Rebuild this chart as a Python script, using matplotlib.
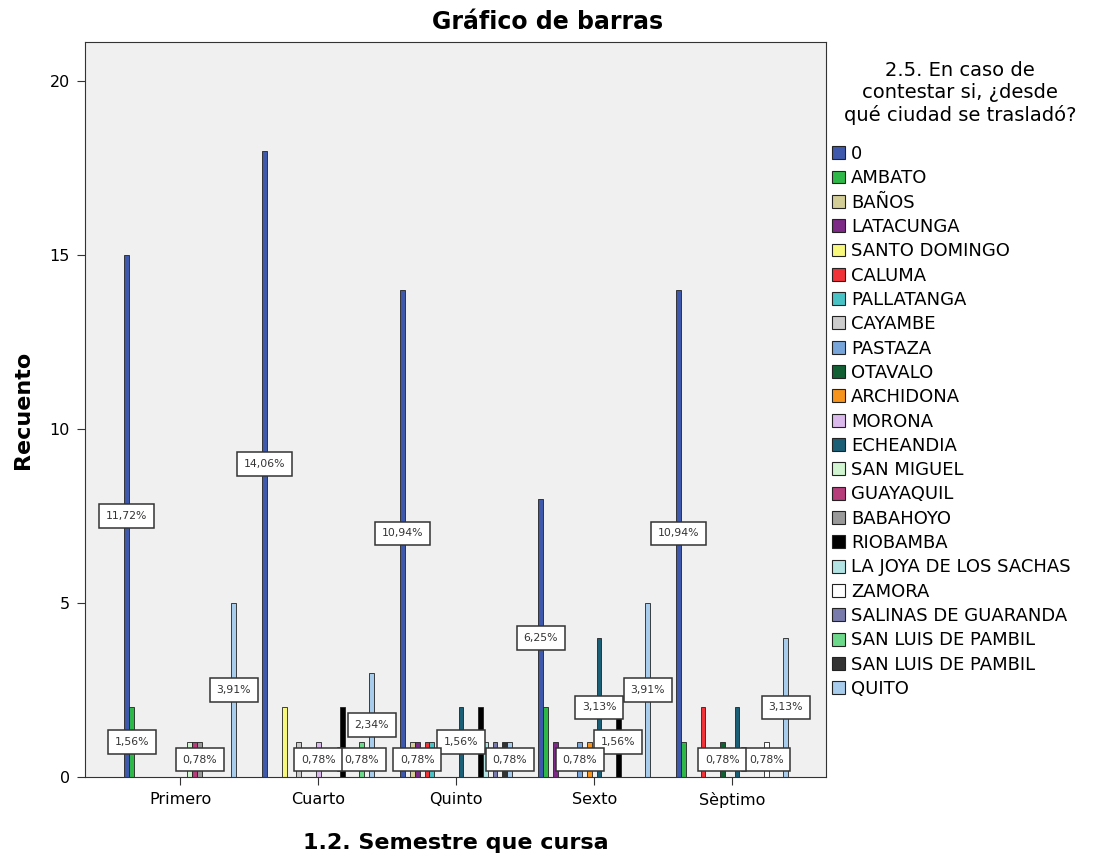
import numpy as np
import matplotlib
matplotlib.use('Agg')
from matplotlib import pyplot as plt
from matplotlib.patches import Patch

plt.rcParams['font.family'] = ['DejaVu Sans']

categories = ['Primero', 'Cuarto', 'Quinto', 'Sexto', 'Sèptimo']

cities = ['0', 'AMBATO', 'BAÑOS', 'LATACUNGA', 'SANTO DOMINGO', 'CALUMA',
          'PALLATANGA', 'CAYAMBE', 'PASTAZA', 'OTAVALO', 'ARCHIDONA', 'MORONA',
          'ECHEANDIA', 'SAN MIGUEL', 'GUAYAQUIL', 'BABAHOYO', 'RIOBAMBA',
          'LA JOYA DE LOS SACHAS', 'ZAMORA', 'SALINAS DE GUARANDA',
          'SAN LUIS DE PAMBIL', 'SAN LUIS DE PAMBIL', 'QUITO']

# counts per city, in category order
counts = [
  [15, 18, 14, 8, 14],
  [2, 0, 0, 2, 1],
  [0, 0, 1, 0, 0],
  [0, 0, 1, 1, 0],
  [0, 2, 0, 0, 0],
  [0, 0, 1, 0, 2],
  [0, 0, 1, 0, 0],
  [0, 1, 0, 0, 0],
  [0, 0, 0, 1, 0],
  [0, 0, 0, 0, 1],
  [0, 0, 0, 1, 0],
  [0, 1, 0, 0, 0],
  [0, 0, 2, 4, 2],
  [1, 0, 0, 0, 0],
  [1, 0, 0, 0, 0],
  [1, 0, 0, 0, 0],
  [0, 2, 2, 2, 0],
  [0, 0, 1, 0, 0],
  [0, 0, 0, 0, 1],
  [0, 0, 1, 0, 0],
  [0, 1, 0, 0, 0],
  [0, 0, 1, 0, 0],
  [5, 3, 1, 5, 4],
]

colors = ['#3E58AC', '#2EB848', '#D3CE97', '#7C2A85', '#F8F87C', '#EF3338',
          '#48C2C5', '#CCCCCC', '#78A5D9', '#115F33', '#F7941D', '#DCB9EC',
          '#1A5F76', '#D0F5D0', '#B73C7A', '#999999', '#000000', '#B4E3E3',
          '#FFFFFF', '#787BAB', '#6CD98A', '#333333', '#A8CCEC']

total = sum(sum(r) for r in counts)
n = len(cities)
w = 0.0352
x = np.arange(len(categories))

fig = plt.figure(figsize=(10.95, 8.58), dpi=100)
ax = fig.add_axes([0.0776, 0.0944, 0.6767, 0.8566])
ax.set_facecolor('#F0F0F0')

for i in range(n):
  pos = x + (i - (n - 1) / 2) * w
  h = np.array(counts[i])
  m = h > 0
  ax.bar(pos[m], h[m], width=w, color=colors[i], edgecolor='#222222',
         linewidth=0.6, zorder=2)

# percent labels at bar middles; hide the ones that overlap too much
lab_w = 9.1   # in slots
lab_h = 0.75  # in counts
placed = []
for j in range(len(categories)):
  for i in reversed(range(n)):
    v = counts[i][j]
    if v == 0:
      continue
    s = j * 50 + i  # slot coordinate
    yc = v / 2
    ok = True
    for (s2, y2) in placed:
      ox = max(0, lab_w - abs(s - s2)) / lab_w
      oy = max(0, lab_h - abs(yc - y2)) / lab_h
      if ox * oy > 0.06:
        ok = False
        break
    if not ok:
      continue
    placed.append((s, yc))
    txt = '%.2f%%' % (v / total * 100 + 1e-9)
    ax.text(x[j] + (i - (n - 1) / 2) * w, yc, txt.replace('.', ','),
            ha='center', va='center', fontsize=7.8, color='#333333', zorder=5,
            bbox=dict(boxstyle='square,pad=0.62', fc='white', ec='#333333', lw=1.1))

ax.set_xlim(-0.69, 4.68)
ax.set_ylim(0, 21.12)
ax.set_xticks(x)
ax.set_xticklabels(categories)
ax.set_yticks([0, 5, 10, 15, 20])
ax.tick_params(axis='both', labelsize=11.5, length=6, color='#333333', pad=5)
for sp in ax.spines.values():
  sp.set_color('#333333')

fig.text(0.5, 1 - 22 / 858, 'Gráfico de barras', fontsize=17, fontweight='bold',
         ha='center', va='center')
ax.set_ylabel('Recuento', fontsize=16, fontweight='bold', labelpad=12)
ax.set_xlabel('1.2. Semestre que cursa', fontsize=16, fontweight='bold', labelpad=18)

# legend title drawn on its own so it can sit centred above the entries
fig.text(960 / 1095, 1 - 93 / 858,
         '2.5. En caso de\ncontestar si, ¿desde\nqué ciudad se trasladó?',
         fontsize=14, ha='center', va='center', multialignment='center',
         linespacing=1.2)

handles = [Patch(facecolor=colors[i], edgecolor='#222222', linewidth=0.8) for i in range(n)]
leg = fig.legend(handles, cities, loc='upper left', bbox_to_anchor=(0.7598, 0.831),
                 frameon=False, fontsize=13, handlelength=0.72, handleheight=0.72,
                 handletextpad=0.35, labelspacing=0.35, borderpad=0, borderaxespad=0)

fig.savefig('out.png', dpi=100)
